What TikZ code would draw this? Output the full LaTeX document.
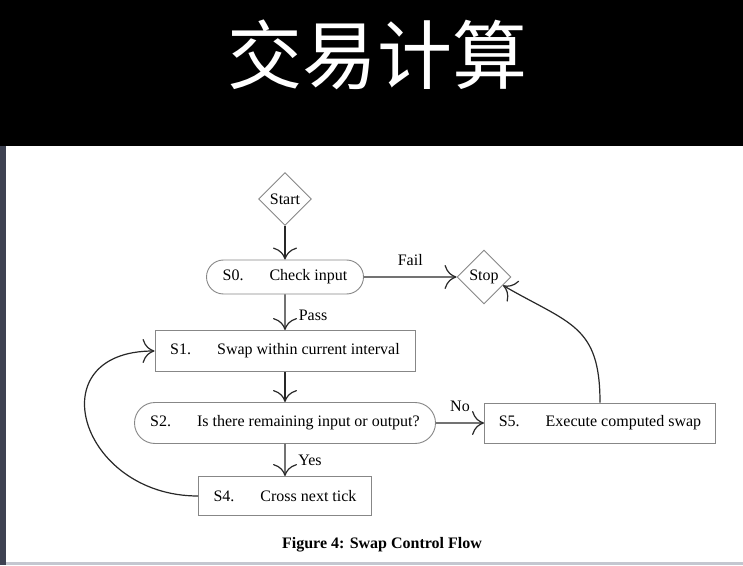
\documentclass[tikz,border=0pt]{standalone}
\usepackage{fontspec}
\setmainfont{Liberation Serif}
\newfontfamily\cjk{Noto Sans CJK SC}
\usetikzlibrary{positioning, calc, shapes.geometric, shapes.misc, arrows.meta}

\definecolor{framegray}{RGB}{135,135,135}
\definecolor{linegray}{RGB}{40,40,40}
\definecolor{sidestrip}{RGB}{62,66,82}
\definecolor{basestrip}{RGB}{196,199,208}

\newcommand{\stepline}[2]{#1\hspace{26pt}#2}

\begin{document}
\begin{tikzpicture}[x=1pt, y=1pt, node distance=73pt, auto, font=\fontsize{16}{19}\selectfont,
        >={Computer Modern Rightarrow[length=12pt, width=24pt]}]
        % Define block styles
        \tikzstyle{stepbox} = [rectangle, draw=framegray, line width=0.9pt, minimum height=40pt, inner sep=0pt]
        \tikzstyle{pill} = [rounded rectangle, draw=framegray, line width=0.9pt, minimum height=41pt, inner sep=0pt]
        \tikzstyle{term} = [diamond, draw=framegray, line width=0.9pt, aspect=1, minimum size=53pt, inner sep=0pt]
        \tikzstyle{flow} = [draw=linegray, line width=1.2pt, ->]

        % Screen around the figure
        \useasboundingbox (0,0) rectangle (743,565);
        \fill[black] (0,0) rectangle (743,565);
        \fill[sidestrip] (0,0) rectangle (6,419);
        \fill[basestrip] (6,0) rectangle (743,3);
        \fill[white] (6,3) rectangle (743,419);
        \node[text=white, font=\cjk\fontsize{75}{80}\selectfont] (title) at (377,510) {交易计算};

        % Place nodes
        \node [term] (start) at (285,366) {Start};
        \node [pill, minimum height=34pt, minimum width=157pt, below of=start, yshift=-5pt] (s0) {\stepline{S0.}{Check input}};
        \node [term, minimum size=54pt, right of=s0, xshift=126pt] (stop) {Stop};
        \node [stepbox, minimum height=41pt, minimum width=260pt, below of=s0, yshift=-1pt] (s1) {\stepline{S1.}{Swap within current interval}};
        \node [pill, minimum width=301pt, below of=s1, yshift=1pt] (s2) {\stepline{S2.}{Is there remaining input or output?}};
        \node [stepbox, minimum height=39pt, minimum width=173pt, below of=s2] (s4) {\stepline{S4.}{Cross next tick}};
        \node [stepbox, minimum width=231pt, right of=s2, xshift=242pt] (s5) {\stepline{S5.}{Execute computed swap}};
        \node [font=\bfseries\fontsize{16}{19}\selectfont] (caption) at (382,20) {Figure 4: Swap Control Flow};

        % Draw connections as arrows
        \draw [flow] (start) -- (s0);
        \draw [flow] (s0) -- (s1);
        \draw [flow] (s0) -- (stop);
        \draw [flow] (s1) -- (s2);
        \draw [flow] (s2) -- (s4);
        \draw [flow] (s2) -- (s5);
        \draw [flow] (s4.west) to[out=180, in=180, looseness=2] (s1.west);
        \draw [flow] (s5.north) to[out=90, in=-30, looseness=1.3] (stop.-24);

        % Add text on the arrows
        \node[align=center, yshift=17pt] at ($(s0.east)!0.5!(stop.west)$) {Fail};
        \node[align=center, xshift=28pt, yshift=-3pt] at ($(s0.south)!0.5!(s1.north)$) {Pass};
        \node[align=center, xshift=25pt] at ($(s2.south)!0.5!(s4.north)$) {Yes};
        \node[align=center, yshift=17pt] at ($(s2.east)!0.5!(s5.west)$) {No};

    \end{tikzpicture}
\end{document}
